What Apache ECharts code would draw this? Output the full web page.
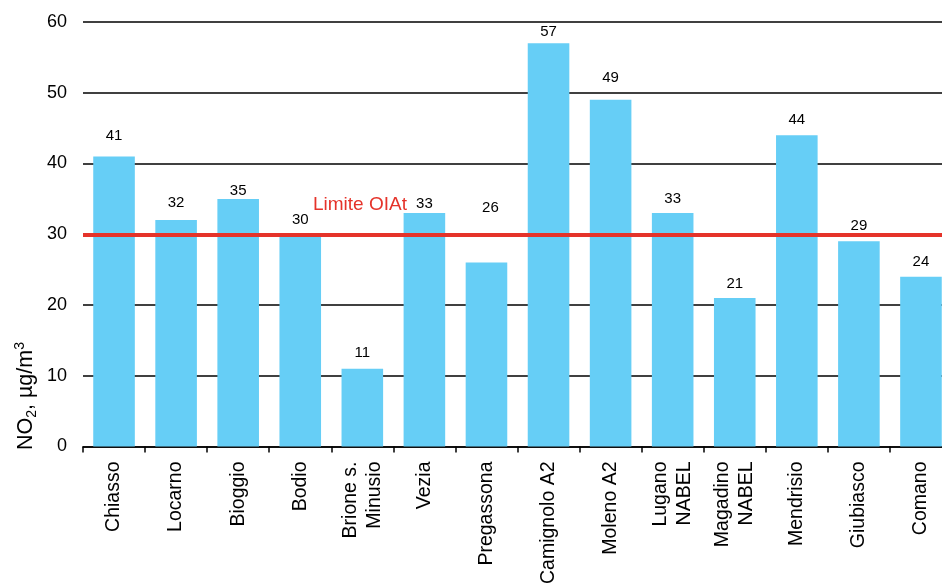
<!DOCTYPE html>
<html>
<head>
<meta charset="utf-8">
<script src="https://cdn.jsdelivr.net/npm/echarts@6/dist/echarts.min.js"></script>
<style>
html,body{margin:0;padding:0;background:#fff;}
#chart{width:942px;height:583px;}
</style>
</head>
<body>
<div id="chart"></div>
<script>
// ---- data ----
var categories = ['Chiasso','Locarno','Bioggio','Bodio','Brione s.\nMinusio','Vezia','Pregassona','Camignolo A2','Moleno A2','Lugano\nNABEL','Magadino\nNABEL','Mendrisio','Giubiasco','Comano'];
var values = [41,32,35,30,11,33,26,57,49,33,21,44,29,24];
var limitValue = 30;
var limitLabel = 'Limite OIAt';
var yMin = 0, yMax = 60, yStep = 10;

// ---- style (label gaps above bars, in px) ----
var labelGaps = [13,10,1,7,8,1.5,47,4,14,7,7,7.5,8,7.5];

var FONT = 'Liberation Sans, Arial, Helvetica, sans-serif';
var chart = echarts.init(document.getElementById('chart'));

var barData = values.map(function(v,i){
  return {value:v, label:{distance:labelGaps[i], offset: i===6 ? [4,0] : [0,0]}};
});

chart.setOption({
  animation:false,
  backgroundColor:'#ffffff',
  grid:{left:83, top:22, width:869, height:424.5, containLabel:false, outerBoundsMode:'none'},
  xAxis:{
    type:'category',
    data:categories,
    boundaryGap:true,
    axisLine:{show:true, lineStyle:{color:'#000', width:1.5}},
    axisTick:{show:true, length:6, lineStyle:{color:'#000', width:1.5}},
    axisLabel:{rotate:90, margin:15, fontSize:19.5, lineHeight:24, color:'#000', fontFamily:FONT, interval:0}
  },
  yAxis:{
    type:'value',
    min:yMin, max:yMax, interval:yStep,
    axisLine:{show:false},
    axisTick:{show:false},
    axisLabel:{fontSize:18, color:'#000', fontFamily:FONT, margin:16},
    splitLine:{show:true, lineStyle:{color:'#000', width:1.5}}
  },
  graphic:[{
    type:'text',
    x:26, y:396,
    rotation:Math.PI/2,
    style:{
      text:'{a|NO}{b|2}{a|, µg/m}{c|3}',
      align:'center', verticalAlign:'middle',
      fill:'#000',
      rich:{
        a:{fontSize:21.5, fontFamily:FONT, lineHeight:26, verticalAlign:'middle', fill:'#000'},
        b:{fontSize:14, fontFamily:FONT, verticalAlign:'bottom', fill:'#000'},
        c:{fontSize:14, fontFamily:FONT, verticalAlign:'top', fill:'#000'}
      }
    }
  }],
  series:[{
    type:'bar',
    data:barData,
    barCategoryGap:'33%',
    itemStyle:{color:'#66CEF6'},
    label:{show:true, position:'top', fontSize:15, color:'#000', fontFamily:FONT},
    markLine:{
      silent:true,
      symbol:['none','none'],
      data:[{yAxis:limitValue}],
      lineStyle:{color:'#E5332A', width:4, type:'solid'},
      label:{
        show:true,
        formatter:limitLabel,
        position:'insideStartTop',
        distance:[230,20],
        color:'#E5332A',
        fontSize:19,
        fontFamily:FONT
      }
    },
    z:2
  }]
});
</script>
</body>
</html>
